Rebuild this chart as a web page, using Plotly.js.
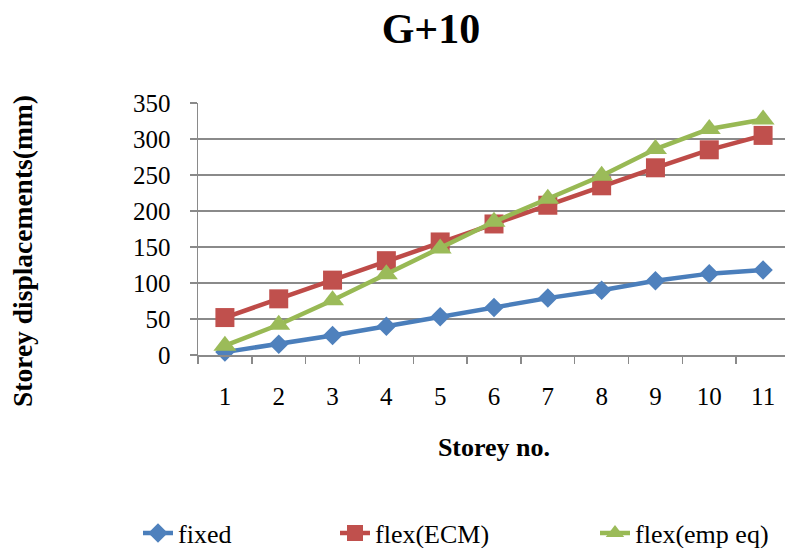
<!DOCTYPE html>
<html>
<head>
<meta charset="utf-8">
<script src="https://cdn.plot.ly/plotly-3.0.1.min.js"></script>
<style>
html, body { margin: 0; padding: 0; overflow: hidden; background: #fff; }
#chart { width: 790px; height: 548px; }
</style>
</head>
<body>
<div id="chart"></div>
<script>
const storeys = ["1","2","3","4","5","6","7","8","9","10","11"];
const fixedVals = [4, 15, 27, 40, 53, 66, 79, 90, 103, 113, 118];
const flexEcmVals = [52, 78, 104, 131, 157, 182, 208, 235, 260, 285, 305];
const flexEmpVals = [13, 42, 76, 112, 148, 185, 217, 249, 286, 314, 327];
const seriesNames = ["fixed", "flex(ECM)", "flex(emp eq)"];
const chartTitle = "G+10";
const xTitle = "Storey no.";
const yTitle = "Storey displacements(mm)";

const FONT = '"Liberation Serif", "Times New Roman", serif';
const GRID = '#8a8a8a';

const traces = [
  { x: storeys, y: fixedVals, name: seriesNames[0], type: 'scatter', mode: 'lines+markers',
    line: { color: '#4A7EBB', width: 4.5 }, marker: { symbol: 'diamond', size: 15, color: '#4F81BD' },
    cliponaxis: false, legend: 'legend' },
  { x: storeys, y: flexEcmVals, name: seriesNames[1], type: 'scatter', mode: 'lines+markers',
    line: { color: '#BE4B48', width: 4.5 }, marker: { symbol: 'square', size: 19, color: '#C0504D' },
    cliponaxis: false, legend: 'legend2' },
  { x: storeys, y: flexEmpVals, name: seriesNames[2], type: 'scatter', mode: 'lines+markers',
    line: { color: '#98B954', width: 4.5 }, marker: { symbol: 'triangle-up', size: 20, color: '#9BBB59' },
    cliponaxis: false, legend: 'legend3' }
];

const legendBase = { orientation: 'h', xref: 'container', yref: 'container', yanchor: 'middle', xanchor: 'left',
  y: 1 - 533/548, font: { family: FONT, size: 26, color: '#000' }, bgcolor: 'rgba(0,0,0,0)' };

const layout = {
  width: 790, height: 548,
  margin: { l: 198, r: 0, t: 103, b: 193, autoexpand: false },
  paper_bgcolor: '#fff', plot_bgcolor: '#fff',
  font: { family: FONT, color: '#000' },
  title: { text: '<b>' + chartTitle + '</b>', font: { family: FONT, size: 42, color: '#000' },
    xref: 'container', yref: 'container', x: 431/790, xanchor: 'center', y: 1 - 28/548, yanchor: 'middle' },
  xaxis: {
    type: 'category', range: [-0.5, storeys.length - 0.5], autorange: false,
    tickson: 'boundaries', ticks: 'outside', ticklen: 7, tickcolor: GRID, tickwidth: 1.5,
    showline: true, linecolor: GRID, linewidth: 1.5, showgrid: false, zeroline: false, automargin: false,
    tickfont: { family: FONT, size: 25, color: '#000' }, ticklabelstandoff: 18,
    title: { text: '<b>' + xTitle + '</b>', font: { family: FONT, size: 26, color: '#000' }, standoff: 29 }
  },
  yaxis: {
    range: [0, 350], autorange: false, dtick: 50, tick0: 0, ticks: 'outside', ticklen: 7, tickcolor: GRID, tickwidth: 1.5,
    showline: true, linecolor: GRID, linewidth: 1.5, showgrid: true, gridcolor: GRID, gridwidth: 1.5, zeroline: false,
    automargin: false,
    tickfont: { family: FONT, size: 25, color: '#000' }, ticklabelstandoff: 14
  },
  annotations: [{
    text: '<b>' + yTitle + '</b>', textangle: -90, showarrow: false,
    xref: 'paper', yref: 'paper', x: (22 - 198) / 592, y: (355 - 251) / 252,
    xanchor: 'center', yanchor: 'middle',
    font: { family: FONT, size: 27.5, color: '#000' }
  }],
  legend: Object.assign({}, legendBase, { x: 138/790 }),
  legend2: Object.assign({}, legendBase, { x: 335/790 }),
  legend3: Object.assign({}, legendBase, { x: 595/790 }),
  showlegend: true
};

Plotly.newPlot('chart', traces, layout, { displayModeBar: false, staticPlot: true });
</script>
</body>
</html>
